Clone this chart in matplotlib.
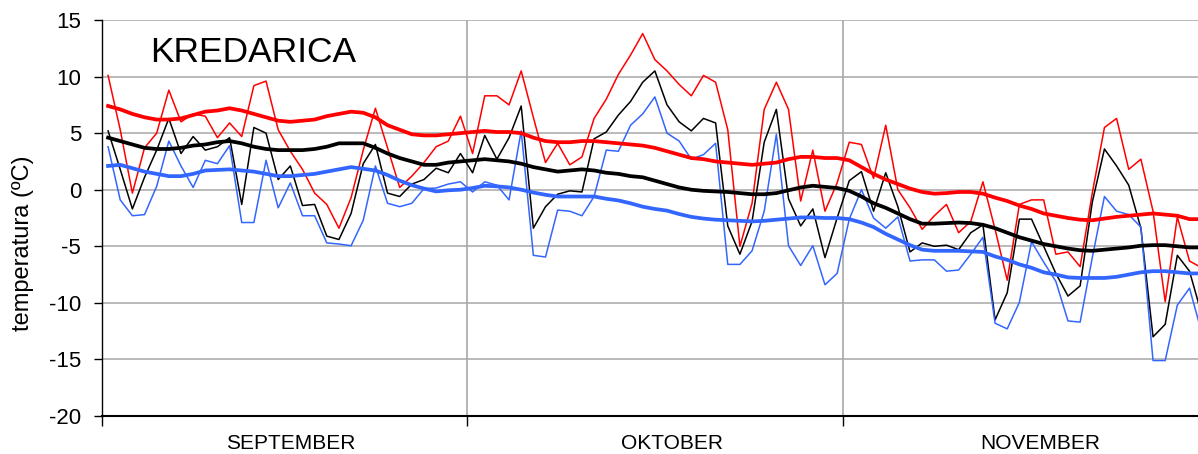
import matplotlib.pyplot as plt
from matplotlib import font_manager

plt.rcParams['font.family'] = ['Liberation Sans', 'DejaVu Sans']
plt.rcParams['axes.unicode_minus'] = False

# daily values, 1 September .. 30 November (index 0 = 1 Sep)
t_max = [10.1, 5.3, -0.3, 3.7, 5.0, 8.8, 6.0, 6.7, 6.5, 4.6,
         5.9, 4.7, 9.2, 9.6, 5.3, 3.4, 1.8, -0.3, -1.3, -3.4,
         -0.7, 3.5, 7.2, 3.7, 0.2, 1.2, 2.4, 3.8, 4.3, 6.5,
         3.2, 8.3, 8.3, 7.5, 10.5, 6.4, 2.4, 4.1, 2.2, 2.9,
         6.3, 8.0, 10.2, 11.9, 13.8, 11.5, 10.5, 9.3, 8.3, 10.1,
         9.5, 5.3, -5.0, -1.2, 7.1, 9.5, 7.1, -1.0, 3.5, -1.9,
         0.6, 4.2, 4.0, 1.0, 5.7, 0.0, -1.6, -3.5, -2.3, -1.3,
         -3.8, -2.8, 0.7, -3.5, -8.0, -1.3, -0.9, -0.9, -5.7, -5.5,
         -6.8, -0.3, 5.5, 6.3, 1.8, 2.7, -1.9, -9.9, -2.4, -6.3,
         -6.9]
t_mean = [5.2, 1.8, -1.7, 1.1, 3.5, 6.3, 3.2, 4.7, 3.5, 3.8,
          4.6, -1.3, 5.5, 5.0, 0.9, 2.1, -1.4, -1.3, -4.1, -4.4,
          -2.1, 2.3, 4.0, -0.3, -0.6, 0.5, 0.9, 1.9, 1.5, 3.2,
          1.5, 4.8, 2.7, 4.6, 7.4, -3.4, -1.5, -0.4, -0.1, -0.2,
          4.5, 5.1, 6.6, 7.8, 9.5, 10.5, 7.5, 6.0, 5.2, 6.3,
          5.9, -3.2, -5.7, -2.8, 4.2, 7.1, -0.8, -3.2, -1.7, -6.0,
          -2.5, 0.8, 1.6, -1.9, 1.5, -1.5, -5.5, -4.7, -5.0, -4.9,
          -5.3, -3.8, -3.1, -11.5, -9.1, -2.6, -2.6, -5.0, -7.4, -9.4,
          -8.5, -1.1, 3.6, 2.1, 0.4, -3.4, -13.0, -11.9, -5.8, -7.2,
          -11.0]
t_min = [3.8, -0.9, -2.3, -2.2, 0.3, 4.3, 2.1, 0.2, 2.6, 2.3,
         3.9, -2.9, -2.9, 2.6, -1.6, 0.6, -2.3, -2.3, -4.7, -4.8,
         -4.95, -2.7, 2.1, -1.2, -1.5, -1.2, 0.1, 0.15, 0.5, 0.7,
         -0.2, 0.7, 0.4, -0.9, 5.2, -5.8, -5.95, -1.8, -1.9, -2.3,
         -0.6, 3.5, 3.4, 5.7, 6.7, 8.2, 5.0, 4.3, 2.7, 3.1,
         4.1, -6.6, -6.6, -5.4, -1.9, 4.9, -4.95, -6.7, -4.95, -8.4,
         -7.4, -2.6, 0.0, -2.5, -3.4, -2.4, -6.3, -6.2, -6.2, -7.2,
         -7.1, -5.7, -4.2, -11.8, -12.3, -9.95, -4.6, -6.4, -8.1, -11.6,
         -11.7, -6.0, -0.6, -1.9, -2.2, -3.3, -15.1, -15.1, -10.2, -8.7,
         -12.6]

# long-term averages for the same days
norm_max = [7.4, 7.1, 6.7, 6.4, 6.2, 6.2, 6.3, 6.6, 6.9, 7.0,
            7.2, 7.0, 6.7, 6.4, 6.1, 6.0, 6.1, 6.2, 6.5, 6.7,
            6.9, 6.8, 6.4, 5.7, 5.3, 4.9, 4.8, 4.8, 4.9, 5.0,
            5.1, 5.2, 5.1, 5.1, 5.0, 4.6, 4.3, 4.2, 4.2, 4.3,
            4.3, 4.2, 4.1, 4.0, 3.9, 3.7, 3.4, 3.1, 2.8, 2.7,
            2.5, 2.4, 2.3, 2.2, 2.3, 2.4, 2.7, 2.9, 2.9, 2.8,
            2.8, 2.6, 2.0, 1.4, 0.9, 0.5, 0.1, -0.2, -0.35, -0.3,
            -0.2, -0.2, -0.35, -0.7, -1.0, -1.4, -1.7, -2.1, -2.3, -2.5,
            -2.65, -2.7, -2.55, -2.4, -2.3, -2.2, -2.1, -2.2, -2.3, -2.6,
            -2.6]
norm_mean = [4.6, 4.3, 4.0, 3.7, 3.6, 3.6, 3.7, 3.9, 4.0, 4.2,
             4.3, 4.1, 3.8, 3.6, 3.5, 3.5, 3.5, 3.6, 3.8, 4.1,
             4.1, 4.1, 3.7, 3.2, 2.8, 2.5, 2.2, 2.2, 2.4, 2.5,
             2.6, 2.7, 2.6, 2.5, 2.3, 2.0, 1.8, 1.6, 1.7, 1.8,
             1.7, 1.5, 1.4, 1.2, 1.1, 0.8, 0.5, 0.2, 0.0, -0.1,
             -0.15, -0.2, -0.3, -0.4, -0.4, -0.3, -0.05, 0.2, 0.35, 0.25,
             0.15, -0.1, -0.6, -1.2, -1.6, -2.1, -2.6, -3.0, -3.0, -2.95,
             -2.9, -2.95, -3.1, -3.4, -3.8, -4.2, -4.5, -4.8, -5.0, -5.2,
             -5.35, -5.4, -5.3, -5.2, -5.1, -4.95, -4.9, -4.9, -5.0, -5.1,
             -5.1]
norm_min = [2.1, 2.2, 1.9, 1.6, 1.4, 1.2, 1.2, 1.4, 1.7, 1.75,
            1.8, 1.7, 1.6, 1.4, 1.2, 1.2, 1.3, 1.4, 1.6, 1.8,
            2.0, 1.85, 1.7, 1.3, 0.8, 0.4, 0.1, -0.15, -0.05, 0.0,
            0.15, 0.35, 0.3, 0.2, 0.0, -0.25, -0.45, -0.6, -0.6, -0.6,
            -0.6, -0.8, -0.95, -1.2, -1.5, -1.7, -1.85, -2.15, -2.4, -2.55,
            -2.65, -2.7, -2.75, -2.8, -2.75, -2.65, -2.55, -2.45, -2.45, -2.5,
            -2.5, -2.6, -2.9, -3.3, -3.9, -4.4, -4.9, -5.3, -5.4, -5.4,
            -5.4, -5.45, -5.5, -5.9, -6.2, -6.6, -6.9, -7.3, -7.5, -7.75,
            -7.8, -7.8, -7.8, -7.7, -7.5, -7.3, -7.2, -7.2, -7.3, -7.4,
            -7.4]

months = ['SEPTEMBER', 'OKTOBER', 'NOVEMBER']
month_label_pos = [15.0, 46.4, 76.7]
month_edges = [-0.5, 29.5, 60.5]
y_ticks = [-20, -15, -10, -5, 0, 5, 10, 15]

red = '#ff0000'
blue = '#3366ff'

fig = plt.figure(figsize=(11.98, 4.54), dpi=100)
ax = fig.add_axes([102 / 1198, 38 / 454, 1096 / 1198, 396 / 454])

days = list(range(len(t_max)))

# grid first so the curves sit on top
for y in y_ticks[1:]:
    ax.axhline(y, color='#b4b4b4', lw=1.3, zorder=0)
for x in month_edges[1:]:
    ax.axvline(x, color='#a8a8a8', lw=1.2, zorder=0)

# daily values (thin)
ax.plot(days, t_max, color=red, lw=1.1, zorder=2)
ax.plot(days, t_mean, color='black', lw=1.1, zorder=2)
ax.plot(days, t_min, color=blue, lw=1.1, zorder=2)

# averages (thick)
ax.plot(days, norm_max, color=red, lw=2.7, zorder=3)
ax.plot(days, norm_mean, color='black', lw=2.7, zorder=3)
ax.plot(days, norm_min, color=blue, lw=2.7, zorder=3)

ax.set_xlim(-0.5, 89.7)
ax.set_ylim(-20, 15)

for side in ['top', 'right']:
    ax.spines[side].set_visible(False)
ax.spines['left'].set_linewidth(1.0)
ax.spines['bottom'].set_linewidth(1.5)

ax.set_yticks(y_ticks)
ax.set_yticklabels([str(v) for v in y_ticks], fontsize=16)
ax.tick_params(axis='y', direction='out', length=6, width=1, pad=9)

ax.set_xticks(month_edges)
ax.set_xticklabels([])
ax.tick_params(axis='x', which='major', direction='out', length=7, width=1)

# month names in the middle of each month
narrow = [f.name for f in font_manager.fontManager.ttflist if f.name == 'Liberation Sans Narrow']
ax.set_xticks(month_label_pos, minor=True)
if narrow:
    ax.set_xticklabels(months, minor=True, fontsize=17, family='Liberation Sans Narrow')
else:
    ax.set_xticklabels(months, minor=True, fontsize=15)
ax.tick_params(axis='x', which='minor', length=0, pad=13)

ax.set_ylabel('temperatura (ºC)', fontsize=17)
ax.yaxis.set_label_coords(-0.062, 0.437)

ax.text(0.044, 0.894, 'KREDARICA', transform=ax.transAxes, fontsize=25.5,
        va='baseline', ha='left')

fig.savefig('out.png', dpi=100)
